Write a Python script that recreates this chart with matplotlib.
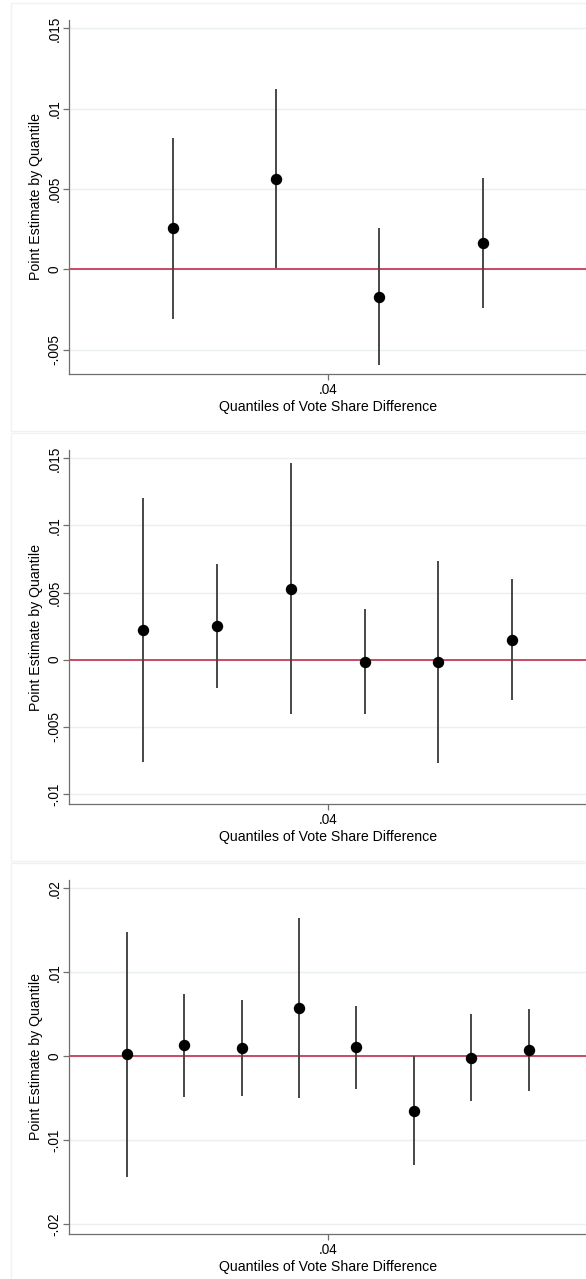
import matplotlib
matplotlib.use("Agg")
import matplotlib.pyplot as plt
from matplotlib.patches import Rectangle

plt.rcParams['font.family'] = ['Liberation Sans', 'DejaVu Sans']

# ---- data ----
# Panel 1: 4 quantiles
p1_x = [0.016, 0.032, 0.048, 0.064]
p1_est = [0.00255, 0.00564, -0.0017, 0.00162]
p1_lo = [-0.00307, 0.00006, -0.00595, -0.00243]
p1_hi = [0.0082, 0.01124, 0.00255, 0.00568]
p1_yticks = [-0.005, 0, 0.005, 0.01, 0.015]
p1_ylabels = ["-.005", "0", ".005", ".01", ".015"]

# Panel 2: 6 quantiles
p2_x = [0.01143, 0.02286, 0.03429, 0.04571, 0.05714, 0.06857]
p2_est = [0.00221, 0.00249, 0.00527, -0.00015, -0.00015, 0.00149]
p2_lo = [-0.00761, -0.00214, -0.00408, -0.00408, -0.00769, -0.00303]
p2_hi = [0.01204, 0.00714, 0.01465, 0.00376, 0.00736, 0.00602]
p2_yticks = [-0.01, -0.005, 0, 0.005, 0.01, 0.015]
p2_ylabels = ["-.01", "-.005", "0", ".005", ".01", ".015"]

# Panel 3: 8 quantiles
p3_x = [0.00889, 0.01778, 0.02667, 0.03556, 0.04444, 0.05333, 0.06222, 0.07111]
p3_est = [0.0002, 0.00127, 0.00095, 0.00571, 0.00103, -0.00659, -0.00024, 0.00071]
p3_lo = [-0.01437, -0.00492, -0.00472, -0.005, -0.00393, -0.01302, -0.0054, -0.00417]
p3_hi = [0.01476, 0.00746, 0.00663, 0.01647, 0.00603, 0.0, 0.005, 0.0056]
p3_yticks = [-0.02, -0.01, 0, 0.01, 0.02]
p3_ylabels = ["-.02", "-.01", "0", ".01", ".02"]

x_ticks = [0.04]
x_ticklabels = [".04"]
x_label = "Quantiles of Vote Share Difference"
y_label = "Point Estimate by Quantile"

W, H = 586, 1279
fig = plt.figure(figsize=(W / 100, H / 100), dpi=100)
fig.patch.set_facecolor("white")

# faint panel boxes
for top, bot in [(3, 431), (433, 861), (863, 1290)]:
    fig.patches.append(Rectangle((11 / W, 1 - bot / H), (W + 10) / W, (bot - top) / H,
                                 transform=fig.transFigure, fill=False,
                                 edgecolor="#eef2f4", lw=1.0))

panels = [
    (p1_x, p1_est, p1_lo, p1_hi, p1_yticks, p1_ylabels, (-0.00652, 0.01552), 20, 374),
    (p2_x, p2_est, p2_lo, p2_hi, p2_yticks, p2_ylabels, (-0.01075, 0.01562), 450, 804),
    (p3_x, p3_est, p3_lo, p3_hi, p3_yticks, p3_ylabels, (-0.0212, 0.02099), 880, 1234),
]

left = 69.4
for xs, est, lo, hi, yt, yl, ylim, top, bot in panels:
    h = bot - top
    ax = fig.add_axes([left / W, 1 - bot / H, (W - left) / W, h / H])
    ax.set_facecolor("white")
    ax.set_xlim(0, 0.08)
    ax.set_ylim(*ylim)
    for t in yt:
        ax.axhline(t, color="#eaf0f2", lw=1.0, zorder=0)
    ax.axhline(0, color="#c94a66", lw=1.4, zorder=1)
    ax.vlines(xs, lo, hi, color="#474747", lw=1.4, zorder=2)
    ax.plot(xs, est, "o", color="black", markersize=7.2, zorder=3)
    for s in ["top", "right"]:
        ax.spines[s].set_visible(False)
    for s in ["left", "bottom"]:
        ax.spines[s].set_color("#6e6e6e")
        ax.spines[s].set_linewidth(0.9)
    ax.set_yticks(yt)
    ax.set_yticklabels(yl, rotation=90, va="center", fontsize=9.8)
    ax.set_xticks(x_ticks)
    ax.set_xticklabels(x_ticklabels, fontsize=9.8)
    ax.tick_params(axis="both", length=4.3, width=0.9, color="#6e6e6e")
    ax.tick_params(axis="y", pad=1.5)
    ax.tick_params(axis="x", pad=2.5)
    ax.set_xlabel(x_label, fontsize=10.2)
    ax.set_ylabel(y_label, fontsize=10.2)
    ax.yaxis.set_label_coords((36.0 - left) / (W - left), 0.5)
    ax.xaxis.set_label_coords(0.5, -32.7 / h)
    ax.xaxis.label.set_va("center")
    ax.yaxis.label.set_va("center")

fig.savefig("out.png", dpi=100, facecolor="white")
